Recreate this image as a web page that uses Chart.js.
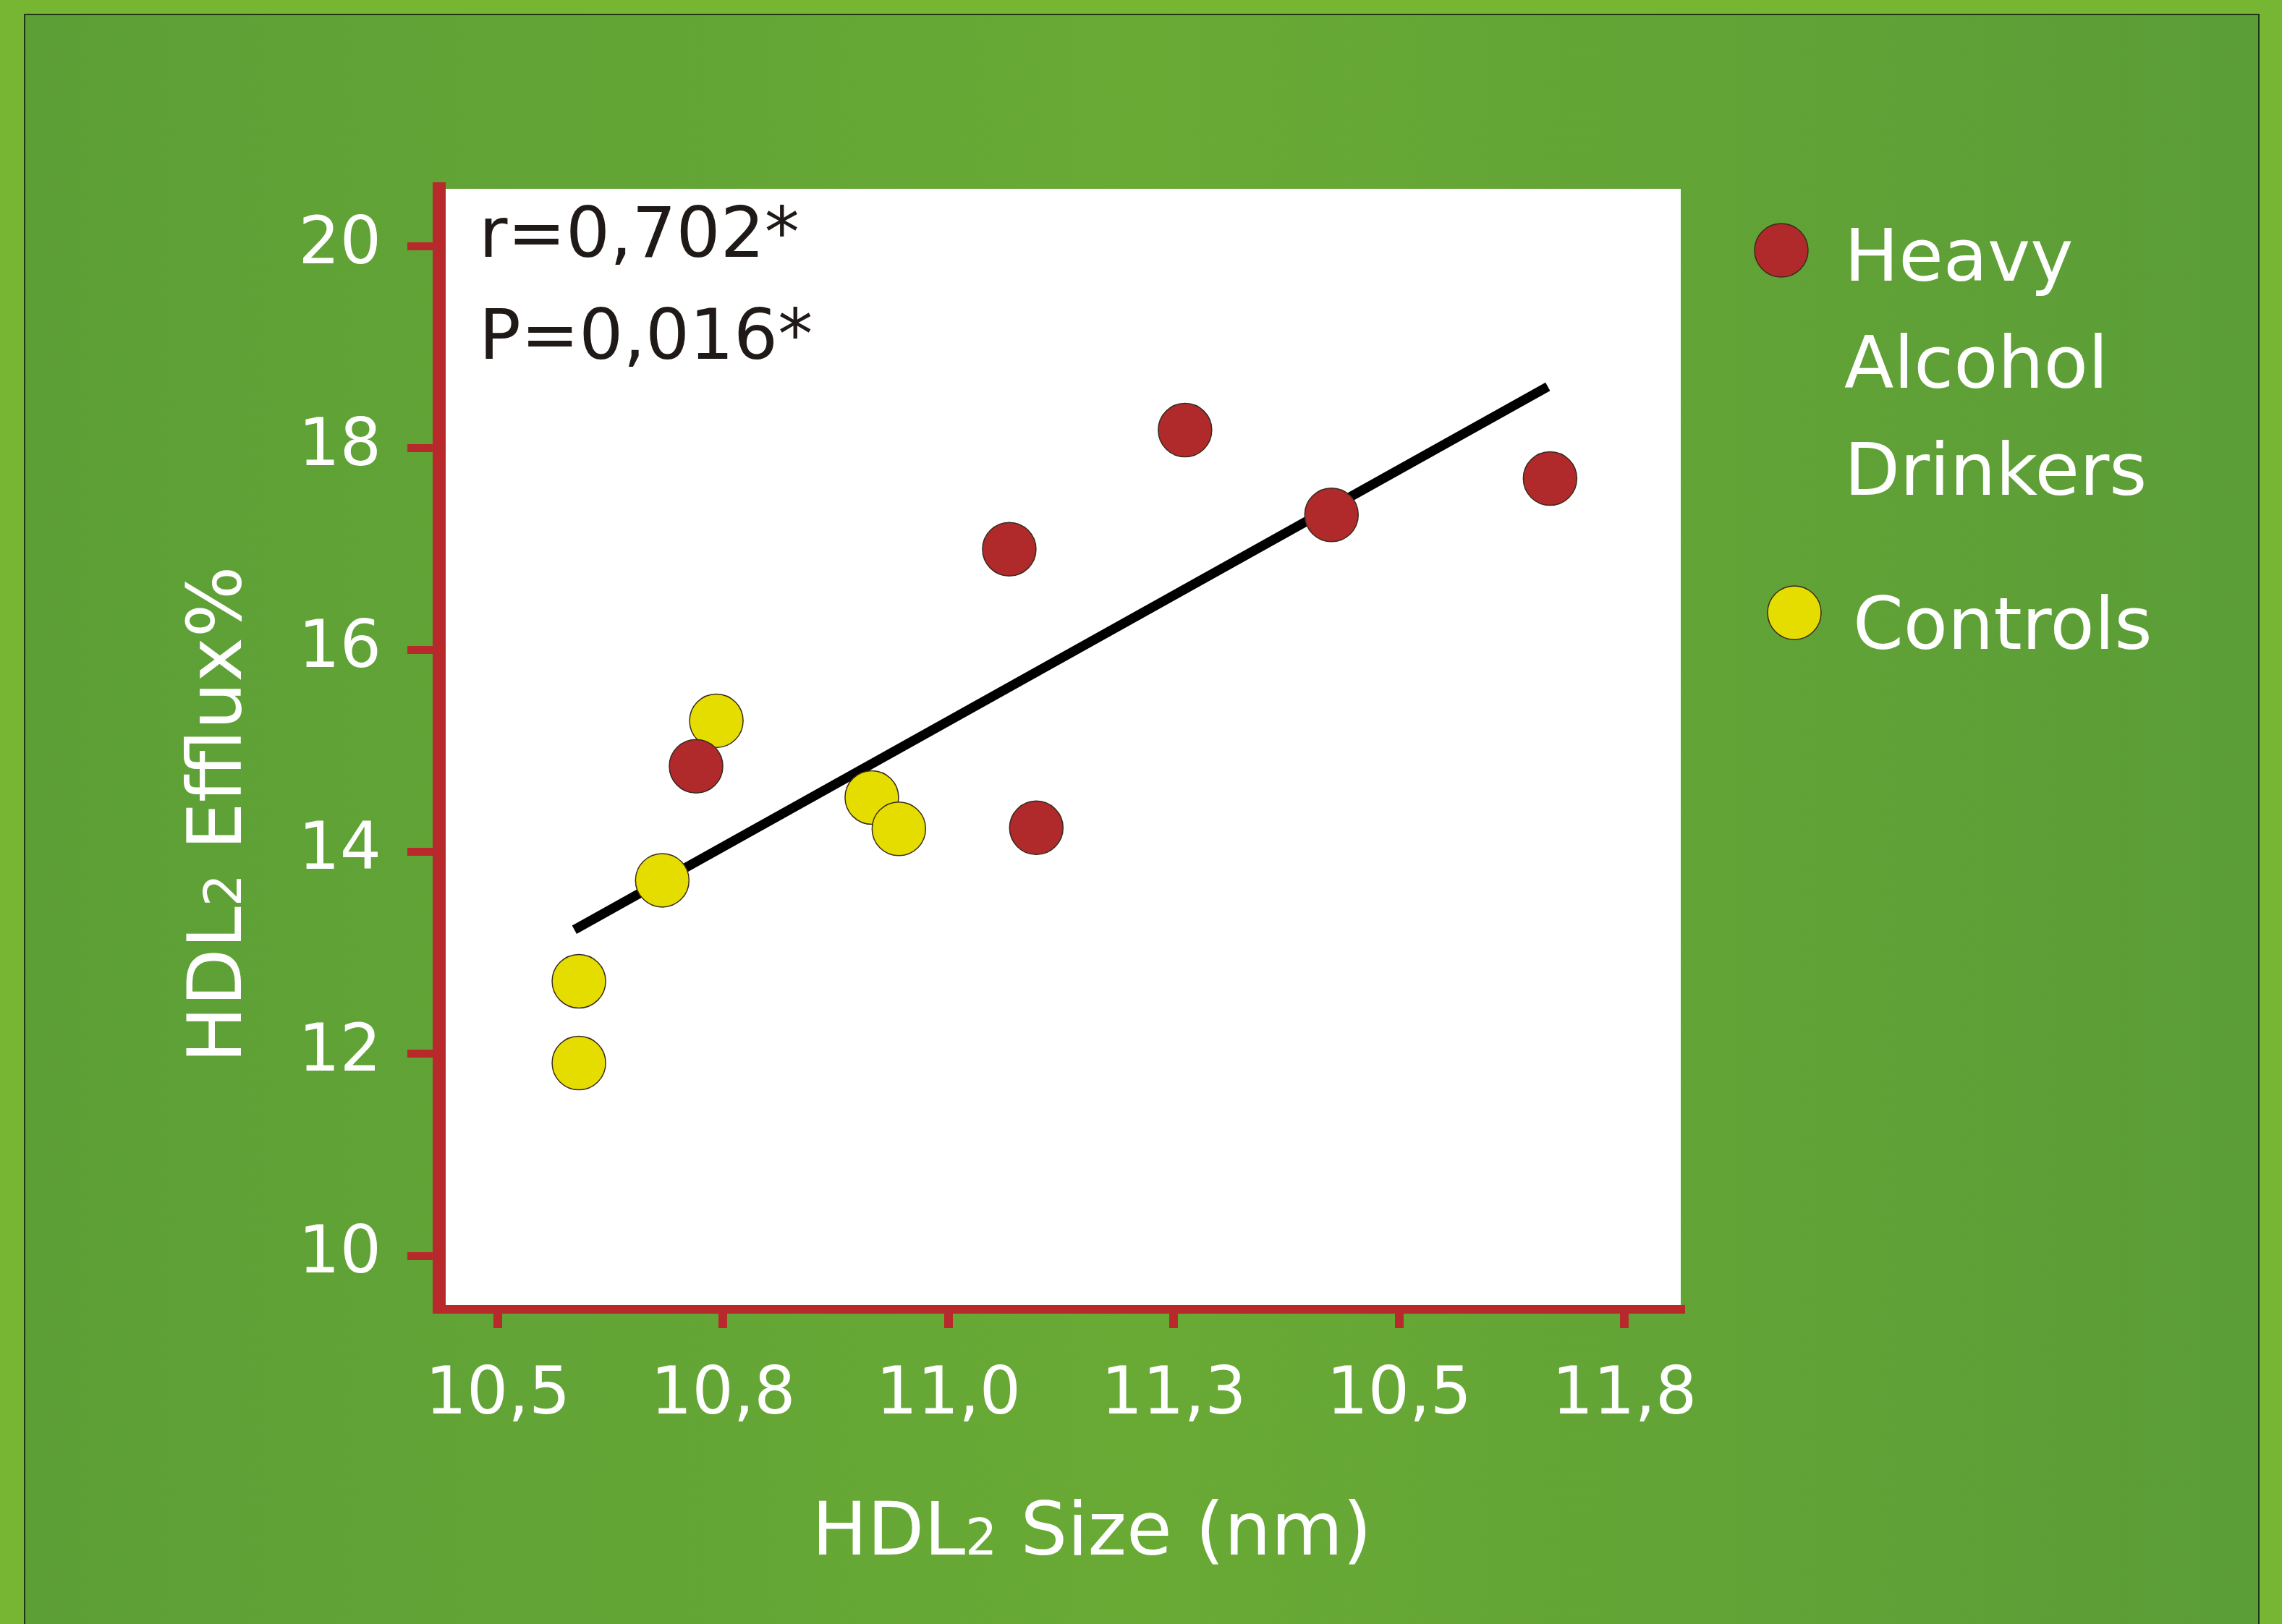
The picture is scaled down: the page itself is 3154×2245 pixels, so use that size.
<!DOCTYPE html>
<html lang="en">
<head>
    <meta charset="UTF-8">
    <title>HDL2 Efflux vs HDL2 Size</title>
    <script src="https://cdn.jsdelivr.net/npm/chart.js"></script>
    <style>
        html, body { margin: 0; padding: 0; background: #77b632; }
        .wrap { width: 3154px; height: 2245px; position: relative; }
    </style>
</head>
<body>
<div class="wrap">
    <canvas id="graf"></canvas>
</div>
<script>
    // x is the tick slot (0..5), labels are printed as in the source figure
    let xTickLabels = ['10,5', '10,8', '11,0', '11,3', '10,5', '11,8'];
    let yTickValues = [10, 12, 14, 16, 18, 20];

    let drinkersX = [0.88, 2.27, 3.05, 2.39, 3.70, 4.67];
    let drinkersY = [14.85, 17.00, 18.18, 14.24, 17.34, 17.70];

    let controlsX = [0.36, 0.36, 0.73, 0.97, 1.66, 1.78];
    let controlsY = [12.72, 11.91, 13.72, 15.30, 14.54, 14.23];

    let fitX = [0.34, 4.66];
    let fitY = [13.23, 18.61];

    let stats = ['r=0,702*', 'P=0,016*'];
    let legendLines = [['Heavy', 'Alcohol', 'Drinkers'], ['Controls']];

    let red = '#b02a2b';
    let yellow = '#e6dd00';
    let axisRed = '#b8292b';
    let font = 'DejaVu Sans';

    function toPoints(xs, ys) {
        return xs.map(function(x, i) { return { x: x, y: ys[i] }; });
    }

    // text like "HDL" + small "2" + rest, centred at (0,0) of current transform
    function drawSubText(ctx, before, sub, after, size) {
        ctx.font = size + 'px "' + font + '"';
        let w1 = ctx.measureText(before).width;
        let w3 = ctx.measureText(after).width;
        ctx.font = Math.round(size * 0.68) + 'px "' + font + '"';
        let w2 = ctx.measureText(sub).width;
        let total = w1 + w2 + w3;
        let x = -total / 2;
        ctx.textAlign = 'left';
        ctx.textBaseline = 'alphabetic';
        let base = size * 0.36;
        ctx.font = size + 'px "' + font + '"';
        ctx.fillText(before, x, base);
        ctx.font = Math.round(size * 0.68) + 'px "' + font + '"';
        ctx.fillText(sub, x + w1, base);
        ctx.font = size + 'px "' + font + '"';
        ctx.fillText(after, x + w1 + w2, base);
    }

    let backgroundPlugin = {
        id: 'backgroundPlugin',
        beforeDraw: function(chart) {
            let ctx = chart.ctx;
            let W = chart.width, H = chart.height;
            ctx.save();
            ctx.fillStyle = '#77b632';
            ctx.fillRect(0, 0, W, H);
            let g = ctx.createLinearGradient(34, 0, 3122, 0);
            g.addColorStop(0, '#5c9f36');
            g.addColorStop(0.5, '#69aa35');
            g.addColorStop(1, '#5b9d37');
            ctx.fillStyle = g;
            ctx.fillRect(34, 20, 3088, H);
            ctx.strokeStyle = '#22361a';
            ctx.lineWidth = 2;
            ctx.strokeRect(34, 20, 3088, H + 10);
            let a = chart.chartArea;
            ctx.fillStyle = '#ffffff';
            ctx.fillRect(a.left, a.top, a.right - a.left, a.bottom - a.top);
            ctx.restore();
        }
    };

    let textPlugin = {
        id: 'textPlugin',
        afterDraw: function(chart) {
            let ctx = chart.ctx;
            let a = chart.chartArea;
            ctx.save();

            // statistics in the plot corner
            ctx.fillStyle = '#1f1a17';
            ctx.font = '96px "' + font + '"';
            ctx.textAlign = 'left';
            ctx.textBaseline = 'middle';
            ctx.fillText(stats[0], a.left + 55, 330);
            ctx.fillText(stats[1], a.left + 55, 471);

            // axis titles
            ctx.fillStyle = '#ffffff';
            ctx.save();
            ctx.translate(1509, 2112);
            drawSubText(ctx, 'HDL', '2', ' Size (nm)', 102);
            ctx.restore();

            ctx.save();
            ctx.translate(296, 1126);
            ctx.rotate(-Math.PI / 2);
            drawSubText(ctx, 'HDL', '2', ' Efflux%', 104);
            ctx.restore();

            // legend
            let sets = chart.data.datasets;
            let marks = [
                { cx: 2462, cy: 346, tx: 2549, ty: 388, ds: sets[0], lines: legendLines[0] },
                { cx: 2480, cy: 847, tx: 2561, ty: 897, ds: sets[1], lines: legendLines[1] }
            ];
            marks.forEach(function(m) {
                ctx.beginPath();
                ctx.arc(m.cx, m.cy, 37, 0, Math.PI * 2);
                ctx.fillStyle = m.ds.backgroundColor;
                ctx.fill();
                ctx.lineWidth = 1.5;
                ctx.strokeStyle = '#3a2a1e';
                ctx.stroke();
                ctx.fillStyle = '#ffffff';
                ctx.font = '100px "' + font + '"';
                ctx.textAlign = 'left';
                ctx.textBaseline = 'alphabetic';
                m.lines.forEach(function(line, i) {
                    ctx.fillText(line, m.tx, m.ty + i * 148);
                });
            });
            ctx.restore();
        }
    };

    let ctx = document.getElementById('graf');

    new Chart(ctx, {
        type: 'scatter',
        data: {
            datasets: [
                {
                    label: 'Heavy Alcohol Drinkers',
                    data: toPoints(drinkersX, drinkersY),
                    backgroundColor: red,
                    borderColor: '#3a2a1e',
                    borderWidth: 1.5,
                    pointRadius: 37,
                    order: 1
                },
                {
                    label: 'Controls',
                    data: toPoints(controlsX, controlsY),
                    backgroundColor: yellow,
                    borderColor: '#3a2a1e',
                    borderWidth: 1.5,
                    pointRadius: 37,
                    order: 2
                },
                {
                    label: 'fit',
                    data: toPoints(fitX, fitY),
                    showLine: true,
                    borderColor: '#000000',
                    borderWidth: 13,
                    pointRadius: 0,
                    order: 3
                }
            ]
        },
        options: {
            responsive: true,
            maintainAspectRatio: false,
            animation: false,
            events: [],
            layout: {
                padding: { left: 0, right: 831, top: 261, bottom: 0 }
            },
            plugins: {
                legend: { display: false },
                tooltip: { enabled: false }
            },
            scales: {
                x: {
                    type: 'linear',
                    min: -0.26,
                    max: 5.25,
                    afterFit: function(s) { s.height = 435; },
                    afterBuildTicks: function(s) {
                        s.ticks = xTickLabels.map(function(l, i) { return { value: i }; });
                    },
                    ticks: {
                        color: '#ffffff',
                        font: { family: font, size: 90 },
                        padding: 41,
                        maxRotation: 0,
                        autoSkip: false,
                        callback: function(v) { return xTickLabels[v]; }
                    },
                    grid: {
                        drawOnChartArea: false,
                        drawTicks: true,
                        tickLength: 26,
                        color: axisRed,
                        lineWidth: 12
                    },
                    border: { display: true, color: axisRed, width: 12 }
                },
                y: {
                    type: 'linear',
                    min: 9.47,
                    max: 20.57,
                    afterFit: function(s) { s.width = 607; },
                    afterBuildTicks: function(s) {
                        s.ticks = yTickValues.map(function(v) { return { value: v }; });
                    },
                    ticks: {
                        color: '#ffffff',
                        font: { family: font, size: 90 },
                        padding: 36,
                        autoSkip: false,
                        callback: function(v) { return String(v); }
                    },
                    grid: {
                        drawOnChartArea: false,
                        drawTicks: true,
                        tickLength: 44,
                        color: axisRed,
                        lineWidth: 11
                    },
                    border: { display: true, color: axisRed, width: 18 }
                }
            }
        },
        plugins: [backgroundPlugin, textPlugin]
    });
</script>
</body>
</html>
